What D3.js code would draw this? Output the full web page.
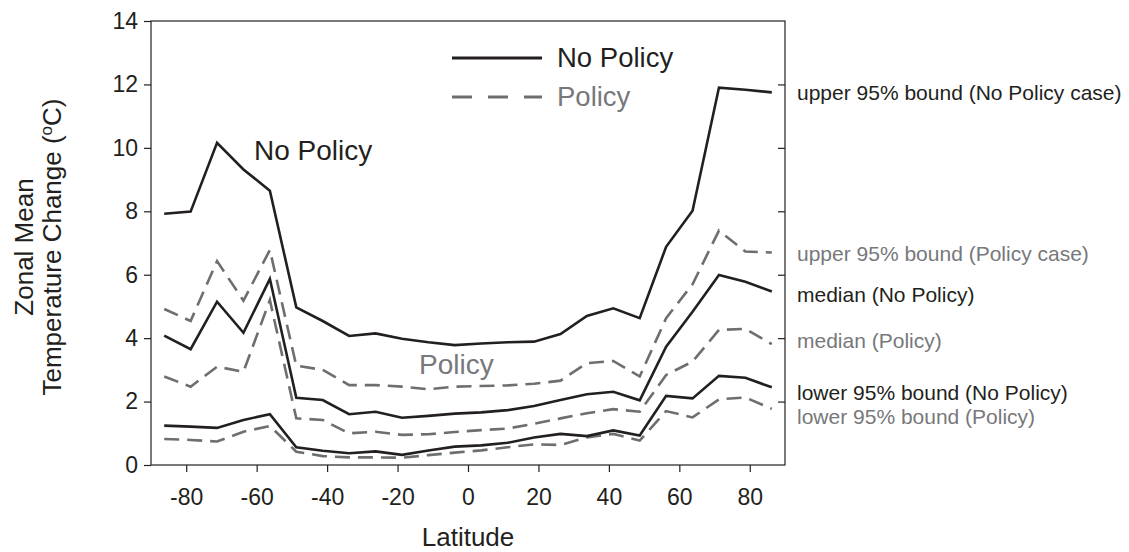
<!DOCTYPE html>
<html>
<head>
<meta charset="utf-8">
<script src="https://cdn.jsdelivr.net/npm/d3@7"></script>
<style>
  html, body { margin: 0; padding: 0; background: #fff; }
  svg { display: block; font-family: "Liberation Sans", Arial, Helvetica, sans-serif; }
</style>
</head>
<body>
<svg id="chart" width="1129" height="552"></svg>
<script>
// ---- Data ----
const latitudes = [-86.25, -78.75, -71.25, -63.75, -56.25, -48.75, -41.25, -33.75, -26.25, -18.75, -11.25, -3.75,
                   3.75, 11.25, 18.75, 26.25, 33.75, 41.25, 48.75, 56.25, 63.75, 71.25, 78.75, 86.25];

const upperNoPolicy  = [7.92, 7.99, 10.16, 9.32, 8.65, 4.97, 4.54, 4.07, 4.15, 3.98, 3.87, 3.78,
                        3.83, 3.87, 3.89, 4.13, 4.70, 4.94, 4.63, 6.88, 8.02, 11.90, 11.83, 11.75];
const medianNoPolicy = [4.08, 3.65, 5.15, 4.17, 5.87, 2.12, 2.05, 1.60, 1.68, 1.49, 1.55, 1.62,
                        1.66, 1.73, 1.86, 2.05, 2.23, 2.31, 2.04, 3.73, 4.83, 5.99, 5.78, 5.47];
const lowerNoPolicy  = [1.24, 1.21, 1.17, 1.42, 1.60, 0.56, 0.45, 0.37, 0.43, 0.32, 0.46, 0.58,
                        0.62, 0.70, 0.87, 0.98, 0.91, 1.09, 0.93, 2.18, 2.10, 2.81, 2.75, 2.45];

const upperPolicy    = [4.92, 4.54, 6.43, 5.18, 6.78, 3.13, 3.00, 2.52, 2.52, 2.47, 2.39, 2.47,
                        2.49, 2.51, 2.56, 2.66, 3.21, 3.28, 2.79, 4.63, 5.70, 7.39, 6.73, 6.70];
const medianPolicy   = [2.79, 2.47, 3.10, 2.94, 5.20, 1.47, 1.42, 1.00, 1.05, 0.95, 0.97, 1.04,
                        1.10, 1.15, 1.30, 1.47, 1.63, 1.76, 1.68, 2.84, 3.26, 4.26, 4.29, 3.81];
const lowerPolicy    = [0.82, 0.79, 0.74, 1.05, 1.23, 0.42, 0.28, 0.24, 0.24, 0.23, 0.31, 0.39,
                        0.46, 0.56, 0.65, 0.63, 0.87, 0.98, 0.77, 1.70, 1.50, 2.07, 2.13, 1.77];

const xTicks = [-80, -60, -40, -20, 0, 20, 40, 60, 80];
const yTicks = [0, 2, 4, 6, 8, 10, 12, 14];

const legendLabels = ["No Policy", "Policy"];
const rightLabels = [
  {text: "upper 95% bound (No Policy case)", policy: false, y: 100},
  {text: "upper 95% bound (Policy case)",    policy: true,  y: 261},
  {text: "median (No Policy)",               policy: false, y: 302},
  {text: "median (Policy)",                  policy: true,  y: 348},
  {text: "lower 95% bound (No Policy)",      policy: false, y: 400},
  {text: "lower 95% bound (Policy)",         policy: true,  y: 424}
];

// ---- Layout ----
const BLACK = "#231f20";
const GRAY = "#6d6e71";
const GRAYTEXT = "#77787b";
const pLeft = 151, pRight = 785, pTop = 21, pBottom = 465;

const svg = d3.select("#chart");
const x = d3.scaleLinear().domain([-90, 90]).range([pLeft, pRight]);
const y = d3.scaleLinear().domain([0, 14]).range([pBottom, pTop]);

// Frame
svg.append("rect")
  .attr("x", pLeft).attr("y", pTop)
  .attr("width", pRight - pLeft).attr("height", pBottom - pTop)
  .attr("fill", "none").attr("stroke", BLACK).attr("stroke-width", 1.2);

// Left axis
const yAxis = svg.append("g").attr("transform", `translate(${pLeft},0)`)
  .call(d3.axisLeft(y).tickValues(yTicks).tickSize(7).tickPadding(6).tickFormat(d3.format("d")));
// Right axis inward ticks
const yAxisR = svg.append("g").attr("transform", `translate(${pRight},0)`)
  .call(d3.axisLeft(y).tickValues(yTicks.filter(d => d > 0 && d < 14)).tickSize(7).tickFormat(""));
// Bottom axis
const xAxis = svg.append("g").attr("transform", `translate(0,${pBottom})`)
  .call(d3.axisBottom(x).tickValues(xTicks).tickSize(7).tickPadding(17).tickFormat(d3.format("d")));

[yAxis, yAxisR, xAxis].forEach(g => {
  g.select(".domain").remove();
  g.selectAll(".tick line").attr("stroke", BLACK).attr("stroke-width", 1.2);
  g.selectAll(".tick text").attr("fill", BLACK).attr("font-size", 23)
    .attr("font-family", "'Liberation Sans', Arial, Helvetica, sans-serif");
});
xAxis.selectAll(".tick text").text(d => d < 0 ? "-" + Math.abs(d) : d);

// Axis titles
svg.append("text").attr("x", x(0)).attr("y", 546)
  .attr("text-anchor", "middle").attr("font-size", 26).attr("fill", BLACK).text("Latitude");

const yTitle = svg.append("text")
  .attr("transform", `translate(0,${(pTop + pBottom) / 2 + 4}) rotate(-90)`)
  .attr("text-anchor", "middle").attr("font-size", 26).attr("fill", BLACK);
yTitle.append("tspan").attr("x", 0).attr("y", 33).text("Zonal Mean");
const t2 = yTitle.append("tspan").attr("x", 0).attr("y", 61).text("Temperature Change (");
t2.append("tspan").attr("font-size", 17).attr("dy", -9).text("o");
t2.append("tspan").attr("dy", 9).text("C)");

// Lines
const line = d3.line().x((d, i) => x(latitudes[i])).y(d => y(d));
const series = [
  {vals: upperPolicy, policy: true},
  {vals: medianPolicy, policy: true},
  {vals: lowerPolicy, policy: true},
  {vals: upperNoPolicy, policy: false},
  {vals: medianNoPolicy, policy: false},
  {vals: lowerNoPolicy, policy: false}
];
svg.append("g").selectAll("path").data(series).join("path")
  .attr("d", d => line(d.vals))
  .attr("fill", "none")
  .attr("stroke", d => d.policy ? GRAY : BLACK)
  .attr("stroke-width", 2.6)
  .attr("stroke-linejoin", "miter")
  .attr("stroke-dasharray", d => d.policy ? "15,8" : null);

// In-plot labels
svg.append("text").attr("x", 254).attr("y", 160).attr("font-size", 28).attr("fill", BLACK).text("No Policy");
svg.append("text").attr("x", 419).attr("y", 374).attr("font-size", 28).attr("fill", GRAYTEXT).text("Policy");

// Legend
svg.append("line").attr("x1", 452).attr("x2", 542).attr("y1", 58).attr("y2", 58)
  .attr("stroke", BLACK).attr("stroke-width", 3);
svg.append("line").attr("x1", 452).attr("x2", 542).attr("y1", 97).attr("y2", 97)
  .attr("stroke", GRAY).attr("stroke-width", 3).attr("stroke-dasharray", "20,16");
svg.append("text").attr("x", 557).attr("y", 67).attr("font-size", 27.5).attr("fill", BLACK).text(legendLabels[0]);
svg.append("text").attr("x", 557).attr("y", 106).attr("font-size", 27.5).attr("fill", GRAYTEXT).text(legendLabels[1]);

// Right-side annotations
svg.append("g").selectAll("text").data(rightLabels).join("text")
  .attr("x", 797).attr("y", d => d.y)
  .attr("font-size", 21)
  .attr("fill", d => d.policy ? GRAYTEXT : BLACK)
  .text(d => d.text);
</script>
</body>
</html>
